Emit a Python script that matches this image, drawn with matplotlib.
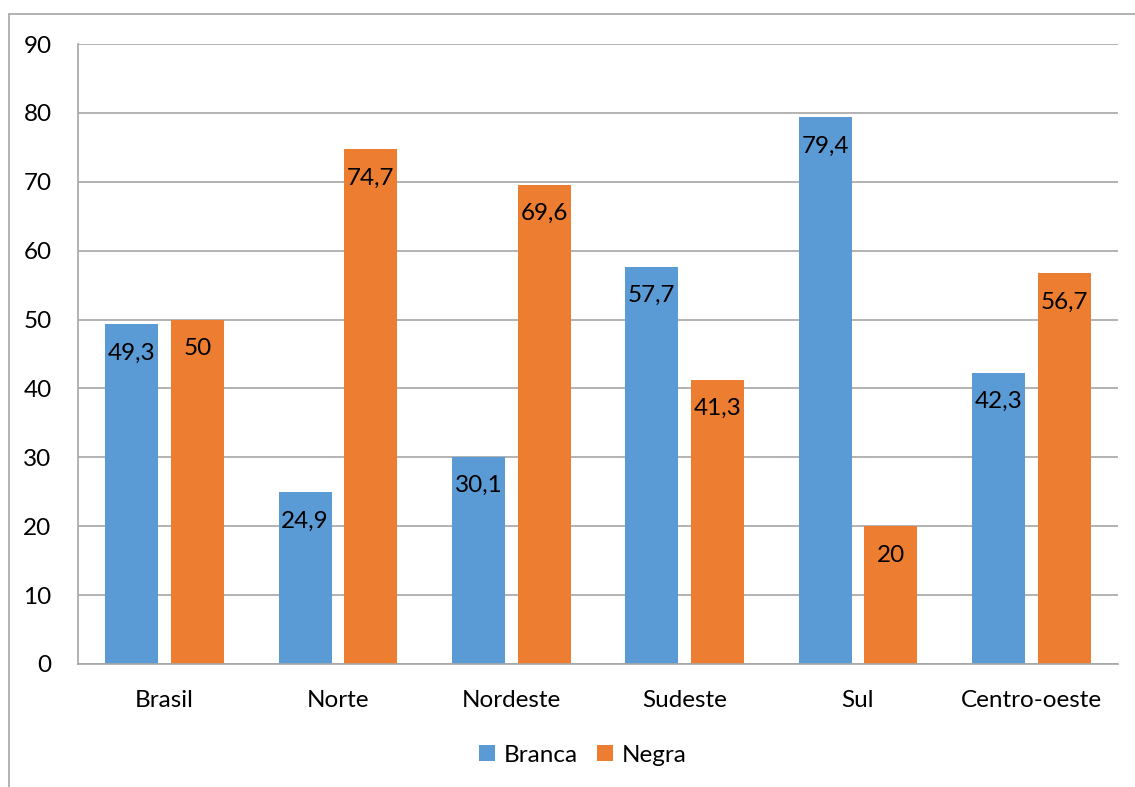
import numpy as np
import matplotlib.pyplot as plt
from matplotlib.patches import Rectangle

# Dados
regioes = ['Brasil', 'Norte', 'Nordeste', 'Sudeste', 'Sul', 'Centro-oeste']
branca = [49.3, 24.9, 30.1, 57.7, 79.4, 42.3]
negra = [50, 74.7, 69.6, 41.3, 20, 56.7]

cor_branca = '#5B9BD5'
cor_negra = '#ED7D31'
cinza = '#A6A6A6'
fs = 17.5

plt.rcParams['font.family'] = ['Lato', 'DejaVu Sans']

fig = plt.figure(figsize=(11.35, 7.87), dpi=100)
ax = fig.add_axes([0.0687, 0.1563, 0.9163, 0.7877])

# Moldura externa do gráfico
fig.patches.append(Rectangle((8.5 / 1135, -0.1), 1.2, 1 - 14 / 787 + 0.1,
                             transform=fig.transFigure, fill=False,
                             edgecolor=cinza, linewidth=1.2))

x = np.arange(len(regioes))
w = 0.306
desl = 0.19
b1 = ax.bar(x - desl, branca, w, color=cor_branca, label='Branca', zorder=2)
b2 = ax.bar(x + desl, negra, w, color=cor_negra, label='Negra', zorder=2)

def fmt(v):
    s = f'{v:g}'
    return s.replace('.', ',')

for barras, vals in ((b1, branca), (b2, negra)):
    for b, v in zip(barras, vals):
        ax.annotate(fmt(v), (b.get_x() + b.get_width() / 2, v),
                    xytext=(0, -21), textcoords='offset points',
                    ha='center', va='center', fontsize=fs, color='black', zorder=3)

ax.set_xlim(-0.5, len(regioes) - 0.5)
ax.set_ylim(0, 90)
ax.set_yticks(range(0, 91, 10))
ax.set_xticks(x)
ax.set_xticklabels(regioes)
ax.tick_params(axis='both', length=0, labelsize=fs)
ax.tick_params(axis='y', pad=19)
ax.tick_params(axis='x', pad=19)
ax.grid(axis='y', color=cinza, linewidth=1.2, zorder=0)
for lado in ('top', 'right'):
    ax.spines[lado].set_visible(False)
for lado in ('left', 'bottom'):
    ax.spines[lado].set_color(cinza)
    ax.spines[lado].set_linewidth(1.2)

ax.legend(loc='center', bbox_to_anchor=(583 / 1135, 1 - 755 / 787),
          bbox_transform=fig.transFigure, ncol=2, frameon=False, fontsize=fs,
          handlelength=0.65, handleheight=0.65, handletextpad=0.35, columnspacing=0.8)

fig.savefig('out.png', dpi=100)
